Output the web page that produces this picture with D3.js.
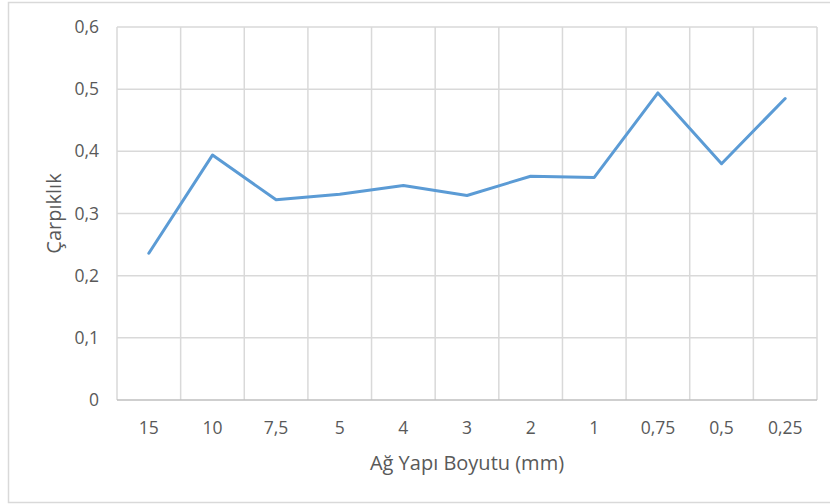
<!DOCTYPE html>
<html>
<head>
<meta charset="utf-8">
<script src="https://cdn.jsdelivr.net/npm/d3@7"></script>
<style>
  body { margin: 0; background: #fff; }
  svg { display: block; }
  text { font-family: "Open Sans", "Liberation Sans", Arial, sans-serif; fill: #595959; }
</style>
</head>
<body>
<svg id="chart" width="830" height="504"></svg>
<script>
const categories = ["15", "10", "7,5", "5", "4", "3", "2", "1", "0,75", "0,5", "0,25"];
const values = [0.236, 0.394, 0.322, 0.331, 0.345, 0.329, 0.360, 0.358, 0.494, 0.380, 0.485];
const yTicks = [0, 0.1, 0.2, 0.3, 0.4, 0.5, 0.6];
const xTitle = "Ağ Yapı Boyutu (mm)";
const yTitle = "Çarpıklık";

const svg = d3.select("#chart");
const m = { left: 117, right: 817, top: 27, bottom: 400 };

// outer chart border
svg.append("rect").attr("x", 8.5).attr("y", 2.5).attr("width", 830).attr("height", 500)
  .attr("fill", "#fff").attr("stroke", "#d9d9d9").attr("stroke-width", 1.5);

const x = d3.scaleBand().domain(categories).range([m.left, m.right]).padding(0);
const y = d3.scaleLinear().domain([0, 0.6]).range([m.bottom, m.top]);
const fmt = v => d3.format(".1~f")(v).replace(".", ",");

// horizontal grid lines
svg.append("g").selectAll("line").data(yTicks.filter(t => t > 0)).join("line")
  .attr("x1", m.left).attr("x2", m.right)
  .attr("y1", d => y(d)).attr("y2", d => y(d))
  .attr("stroke", "#d9d9d9").attr("stroke-width", 1.5);

// vertical grid lines at band boundaries
const bounds = categories.map(c => x(c)).concat([m.right]);
svg.append("g").selectAll("line").data(bounds).join("line")
  .attr("x1", d => d).attr("x2", d => d)
  .attr("y1", m.top).attr("y2", m.bottom)
  .attr("stroke", "#d9d9d9").attr("stroke-width", 1.5);

// bottom axis line
svg.append("line").attr("x1", m.left).attr("x2", m.right)
  .attr("y1", m.bottom).attr("y2", m.bottom)
  .attr("stroke", "#bfbfbf").attr("stroke-width", 1.5);

// y tick labels
svg.append("g").selectAll("text").data(yTicks).join("text")
  .attr("x", 99).attr("y", d => y(d)).attr("dy", "0.35em")
  .attr("text-anchor", "end").attr("font-size", 17.5)
  .text(d => d === 0 ? "0" : fmt(d));

// x tick labels
svg.append("g").selectAll("text").data(categories).join("text")
  .attr("x", d => x(d) + x.bandwidth() / 2).attr("y", 428).attr("dy", "0.35em")
  .attr("text-anchor", "middle").attr("font-size", 17.5)
  .text(d => d);

// line
const line = d3.line()
  .x((d, i) => x(categories[i]) + x.bandwidth() / 2)
  .y(d => y(d));
svg.append("path").datum(values).attr("d", line)
  .attr("fill", "none").attr("stroke", "#5B9BD5").attr("stroke-width", 3)
  .attr("stroke-linejoin", "round").attr("stroke-linecap", "round");

// axis titles
svg.append("text").attr("x", (m.left + m.right) / 2).attr("y", 463).attr("dy", "0.35em")
  .attr("text-anchor", "middle").attr("font-size", 20).text(xTitle);
svg.append("text").attr("transform", `translate(54, ${(m.top + m.bottom) / 2}) rotate(-90)`)
  .attr("dy", "0.35em").attr("text-anchor", "middle").attr("font-size", 20).text(yTitle);
</script>
</body>
</html>
